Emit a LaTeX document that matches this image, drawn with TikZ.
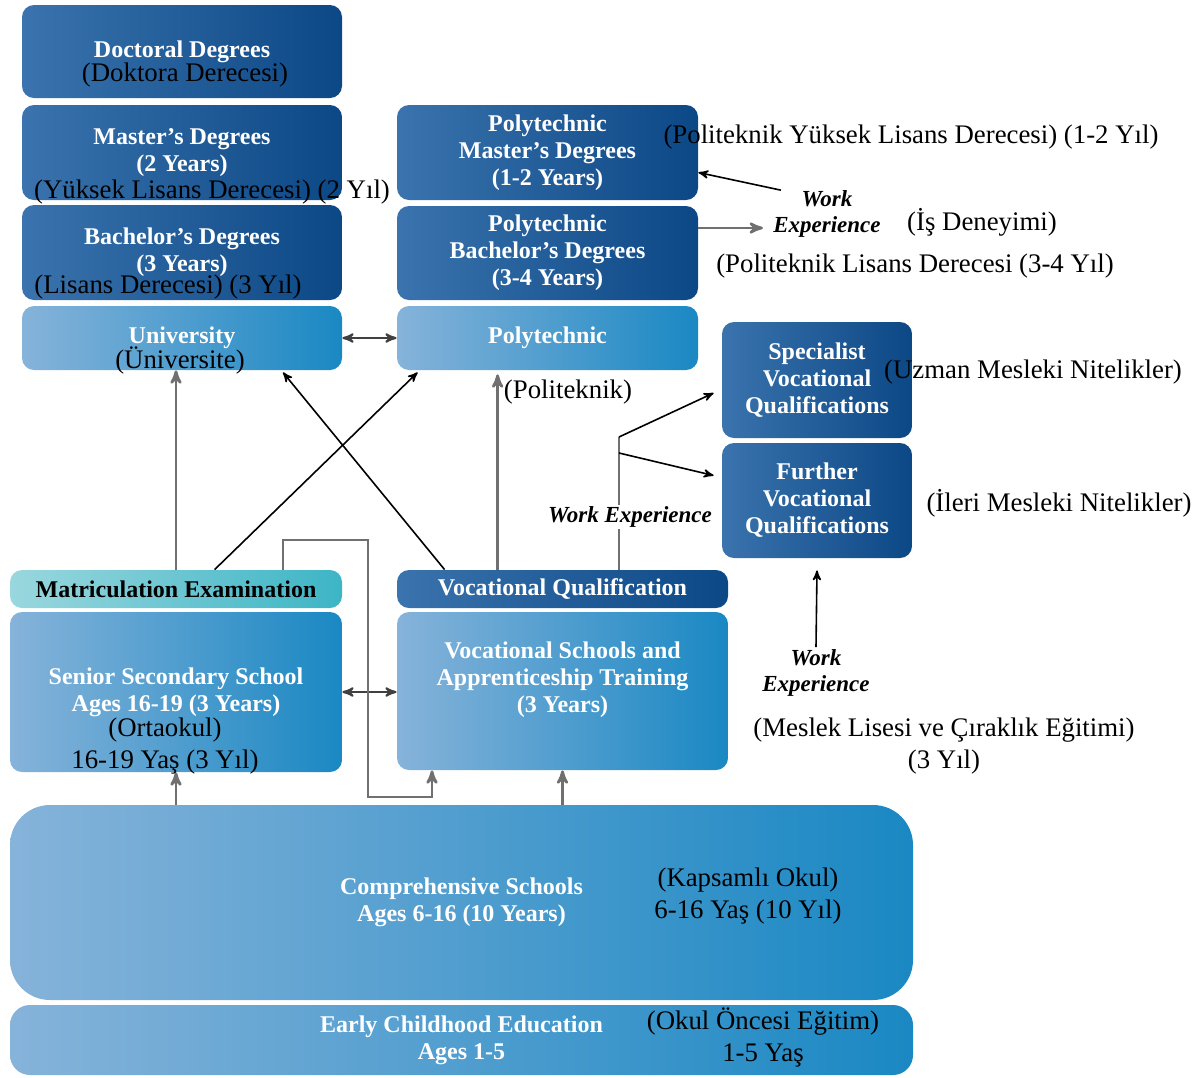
\documentclass[tikz,border=0pt]{standalone}
\usepackage{fontspec}
\setmainfont{Liberation Serif}
\usepackage{tikz}
\usetikzlibrary{arrows,calc}

\definecolor{dkL}{HTML}{3A73AD}
\definecolor{dkR}{HTML}{0C4886}
\definecolor{ltL}{HTML}{86B3DA}
\definecolor{ltR}{HTML}{1A88C3}
\definecolor{tlL}{HTML}{9AD7DE}
\definecolor{tlR}{HTML}{3DB5C5}
\definecolor{lnG}{HTML}{707070}

\newcommand{\bxf}{\fontsize{12}{13.5}\selectfont\bfseries}
\newcommand{\wxf}{\fontsize{11.5}{13}\selectfont\bfseries\itshape}
\newcommand{\trf}{\fontsize{13.4}{16}\selectfont}

\begin{document}
\begin{tikzpicture}[x=0.5pt, y=-0.5pt,
		box/.style={rounded corners=6pt, align=center, text=white, font=\bxf, inner sep=0pt},
		dbox/.style={box, left color=dkL, right color=dkR},
		lbox/.style={box, left color=ltL, right color=ltR},
		tbox/.style={box, left color=tlL, right color=tlR, text=black},
		tr/.style={align=center, font=\trf, inner sep=0pt},
		wex/.style={align=center, font=\wxf, inner sep=1pt},
		garrow/.style={draw=lnG, line width=1.3pt, -stealth'},
		gline/.style={draw=lnG, line width=1.3pt},
		barrow/.style={draw=black, line width=0.8pt, -stealth'},
		dblarrow/.style={draw=black!75, line width=1pt, stealth'-stealth'}]
		\useasboundingbox (0,0) rectangle (1200,1077);
		% university side
		\node[dbox, minimum width=160pt, minimum height=46.5pt] (doc) at (182,51.5) {Doctoral Degrees};
		\node[dbox, minimum width=160pt, minimum height=47.5pt] (mast) at (182,152.5) {Master's Degrees\\(2 Years)};
		\node[dbox, minimum width=160pt, minimum height=47.5pt] (bach) at (182,252.5) {Bachelor's Degrees\\(3 Years)};
		\node[lbox, minimum width=160pt, minimum height=32pt] (uni) at (182,338) {University};
		% polytechnic side
		\node[dbox, minimum width=150.5pt, minimum height=47.5pt] (pmast) at (547.5,152.5) {Polytechnic\\Master's Degrees\\(1-2 Years)};
		\node[dbox, minimum width=150.5pt, minimum height=47pt] (pbach) at (547.5,253) {Polytechnic\\Bachelor's Degrees\\(3-4 Years)};
		\node[lbox, minimum width=150.5pt, minimum height=32pt] (poly) at (547.5,338) {Polytechnic};
		\node[dbox, minimum width=95pt, minimum height=58pt] (spec) at (817,380) {Specialist\\Vocational\\Qualifications};
		\node[dbox, minimum width=95pt, minimum height=57.5pt] (further) at (817,500.5) {Further\\Vocational\\Qualifications};
		% secondary level
		\node[tbox, minimum width=166pt, minimum height=19pt] (matric) at (176,589) {Matriculation Examination};
		\node[dbox, minimum width=165.5pt, minimum height=19pt] (vocq) at (562.5,589) {Vocational Qualification};
		\node[lbox, minimum width=166pt, minimum height=80pt] (senior) at (176,692) {Senior Secondary School\\Ages 16-19 (3 Years)};
		\node[lbox, minimum width=165.5pt, minimum height=79pt] (vocsch) at (562.5,691) {Vocational Schools and\\Apprenticeship Training\\(3 Years)\\ \mbox{}};
		\node[lbox, rounded corners=20pt, minimum width=451.5pt, minimum height=97.5pt] (comp) at (461.5,902.5) {Comprehensive Schools\\Ages 6-16 (10 Years)};
		\node[lbox, rounded corners=10pt, minimum width=451.5pt, minimum height=35pt] (early) at (461.5,1040) {Early Childhood Education\\Ages 1-5};

		\node[wex] (wexC) at (827,214) {Work\\Experience};
		\node[wex] (wexB) at (816,673) {Work\\Experience};
		\coordinate (brA) at (619,437);
		\coordinate (brB) at (619,453);
		\coordinate (loopA) at (283,540);
		\coordinate (loopB) at (368,540);
		\coordinate (loopC) at (368,797);
		\coordinate (loopD) at (432,797);

		\draw[dblarrow] (uni.east) -- (poly.west);
		\draw[dblarrow] (senior.east) -- (senior.east -| vocsch.west);
		\draw[garrow] (matric) -- (matric |- uni.south);
		\draw[barrow] ($(matric.north west)+(205,0)$) -- ($(poly.south west)+(21,2)$);
		\draw[barrow] ($(vocq.north west)+(48,0)$) -- ($(uni.south)+(101,2)$);
		\draw[garrow] ($(vocq.north west)+(101,0)$) -- ($(poly.south west)+(101,4)$);
		\draw[garrow] (loopA |- matric.north) -- (loopA) -- (loopB) -- (loopC) -- (loopD) -- (loopD |- vocsch.south);
		\draw[garrow] (comp.north -| senior) -- (senior.south);
		\draw[garrow] (comp.north -| vocsch) -- (vocsch.south);
		\draw[gline] (vocq.north -| brA) -- (brA);
		\draw[barrow] (brA) -- ($(spec.west)+(-8,13)$);
		\draw[barrow] (brB) -- ($(further.west)+(-8,-25)$);
		\draw[garrow] ($(pbach.east)+(0,-25)$) -- ($(wexC.west)+(-8,14)$);
		\draw[barrow] ($(wexC.north west)+(10,2)$) -- ($(pmast.east)+(0,20)$);
		\draw[barrow] (wexB.north) -- ($(further.south)+(0,12)$);
		\node[wex, fill=white] (wexA) at (630,517) {Work Experience};

		% turkish notes
		\node[tr] (trDoc) at (185,75) {(Doktora Derecesi)};
		\node[tr] (trMast) at (212,192) {(Yüksek Lisans Derecesi) (2 Yıl)};
		\node[tr] (trBach) at (168,287) {(Lisans Derecesi) (3 Yıl)};
		\node[tr] (trUni) at (180,360) {(Üniversite)};
		\node[tr] (trPmast) at (911,137) {(Politeknik Yüksek Lisans Derecesi) (1-2 Yıl)};
		\node[tr] (trWex) at (982,222) {(İş Deneyimi)};
		\node[tr] (trPbach) at (915,266) {(Politeknik Lisans Derecesi (3-4 Yıl)};
		\node[tr] (trPoly) at (568,392) {(Politeknik)};
		\node[tr] (trSpec) at (1033,372) {(Uzman Mesleki Nitelikler)};
		\node[tr] (trFurther) at (1059,503) {(İleri Mesleki Nitelikler)};
		\node[tr] (trSenior) at (165,746) {(Ortaokul)\\16-19 Yaş (3 Yıl)};
		\node[tr] (trVocsch) at (944,746) {(Meslek Lisesi ve Çıraklık Eğitimi)\\(3 Yıl)};
		\node[tr] (trComp) at (748,896) {(Kapsamlı Okul)\\6-16 Yaş (10 Yıl)};
		\node[tr] (trEarly) at (763,1037) {(Okul Öncesi Eğitim)\\1-5 Yaş};
	\end{tikzpicture}
\end{document}
